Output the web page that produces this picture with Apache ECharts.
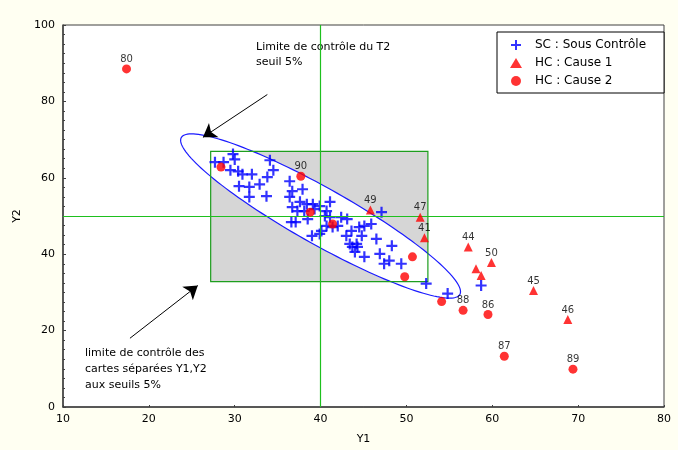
<!DOCTYPE html>
<html>
<head>
<meta charset="utf-8">
<script src="https://cdn.jsdelivr.net/npm/echarts@6/dist/echarts.min.js"></script>
<style>
html,body{margin:0;padding:0;background:#fffff2;}
#chart{width:678px;height:450px;}
</style>
</head>
<body>
<div id="chart"></div>
<script>
// ---- data ----
const X_TICKS = [10, 20, 30, 40, 50, 60, 70, 80];
const Y_TICKS = [0, 20, 40, 60, 80, 100];

// SC : Sous Contrôle  [Y1, Y2]
const scPoints = [
  [27.7,64.1],[28.7,64.1],[29.8,66.2],[30.0,64.8],[29.5,62.0],[30.4,61.7],[30.9,60.9],[32.0,60.9],
  [30.5,57.8],[31.7,57.6],[31.7,55.0],[32.9,58.3],[33.7,55.2],[34.1,64.6],[34.5,62.0],[33.8,60.2],
  [36.4,59.1],[36.4,55.0],[37.9,57.0],[36.7,56.5],[37.6,53.7],[36.7,52.3],[38.4,53.1],[39.1,53.1],
  [39.9,52.6],[41.1,53.7],[37.3,51.3],[38.1,51.3],[39.3,51.8],[40.7,51.3],[36.6,48.4],[37.1,48.4],
  [38.5,49.2],[40.5,50.0],[41.1,49.7],[42.4,49.7],[43.1,49.2],[40.7,47.4],[41.4,47.1],[39.9,45.3],
  [39.0,44.8],[40.1,46.1],[43.0,44.8],[43.6,46.1],[44.5,47.1],[44.8,44.8],[43.4,42.7],[44.2,42.7],
  [42.0,47.4],[47.1,51.0],[45.1,47.4],[45.9,47.9],[46.5,44.0],[48.3,42.2],[43.7,41.9],[44.3,41.9],
  [44.0,40.6],[45.1,39.3],[46.9,40.1],[48.0,38.3],[47.4,37.5],[49.4,37.5],[52.3,32.3],[54.8,29.7],
  [58.7,31.8]
];
// HC : Cause 1  [Y1, Y2, label]
const hc1Points = [
  [45.8,51.6,'49'],[51.6,49.7,'47'],[52.1,44.3,'41'],[57.2,41.9,'44'],[58.1,36.2,''],
  [58.7,34.4,''],[59.9,37.8,'50'],[64.8,30.5,'45'],[68.8,22.9,'46']
];
// HC : Cause 2  [Y1, Y2, label]
const hc2Points = [
  [17.4,88.5,'80'],[28.4,62.8,''],[37.7,60.4,'90'],[38.8,51.0,''],[41.4,47.9,''],
  [50.7,39.3,''],[49.8,34.1,''],[54.1,27.6,''],[56.6,25.3,'88'],[59.5,24.2,'86'],
  [61.4,13.3,'87'],[69.4,9.9,'89']
];
// control limits
const TARGET = [40, 50];                 // green reference lines (Y1, Y2)
const RECT_Y1 = [27.2, 52.5];            // separate chart limits for Y1
const RECT_Y2 = [32.8, 66.9];            // separate chart limits for Y2
const T2_CENTER = [40, 50];
const T2_SPREAD = [16.3, 21.5];
const T2_PHASE = 0.40;
// annotation arrows [from, to] in data units
const ARROW_T2 = [[33.8, 81.8], [26.3, 70.6]];
const ARROW_RECT = [[17.8, 18.0], [25.7, 31.8]];

const FONT = 'DejaVu Sans';
const PLUS = 'path://M4,0H6V4H10V6H6V10H4V6H0V4H4Z';
const GREEN = '#1ec01e';

function ellipsePoints(api) {
  const pts = [];
  const n = 160;
  for (let i = 0; i <= n; i++) {
    const t = 2 * Math.PI * i / n;
    const x = T2_CENTER[0] + T2_SPREAD[0] * Math.cos(t);
    const y = T2_CENTER[1] - T2_SPREAD[1] * Math.cos(t + T2_PHASE);
    pts.push(api.coord([x, y]));
  }
  return pts;
}

function renderLimits(params, api) {
  const tl = api.coord([RECT_Y1[0], RECT_Y2[1]]);
  const br = api.coord([RECT_Y1[1], RECT_Y2[0]]);
  const rect = {x: tl[0], y: tl[1], width: br[0] - tl[0], height: br[1] - tl[1]};
  return {
    type: 'group',
    children: [
      {type: 'rect', shape: rect, style: {fill: '#d6d6d6', stroke: null}},
      {type: 'polygon', shape: {points: ellipsePoints(api)},
       style: {fill: '#ffffff', stroke: '#1a1aff', lineWidth: 1.2}},
      {type: 'rect', shape: rect, style: {fill: null, stroke: '#1e9e1e', lineWidth: 1.2}}
    ]
  };
}

const labelStyle = {
  show: true, position: 'top', distance: 0, fontSize: 10, fontFamily: FONT, color: '#000',
  formatter: p => p.value[2] || ''
};

const chart = echarts.init(document.getElementById('chart'), null, {renderer: 'canvas'});
chart.setOption({
  backgroundColor: '#fffff2',
  animation: false,
  textStyle: {fontFamily: FONT},
  grid: {left: 63, right: 14, top: 25, bottom: 41, show: true, backgroundColor: '#ffffff',
         borderColor: '#404040', borderWidth: 1},
  xAxis: {
    type: 'value', min: X_TICKS[0], max: X_TICKS[X_TICKS.length - 1], interval: 10,
    name: 'Y1', nameLocation: 'middle', nameGap: 27,
    nameTextStyle: {fontSize: 11, color: '#000', fontFamily: FONT},
    axisLine: {onZero: false, lineStyle: {color: '#404040', width: 1.5}},
    axisTick: {inside: true, length: 2, lineStyle: {color: '#404040'}},
    axisLabel: {color: '#000', fontSize: 11, margin: 7, fontFamily: FONT},
    splitLine: {show: false}
  },
  yAxis: {
    type: 'value', min: Y_TICKS[0], max: Y_TICKS[Y_TICKS.length - 1], interval: 20,
    name: 'Y2', nameLocation: 'middle', nameGap: 33, nameRotate: 90,
    nameTextStyle: {fontSize: 11, color: '#000', fontFamily: FONT},
    axisLine: {onZero: false, lineStyle: {color: '#404040', width: 1.5}},
    axisTick: {inside: true, length: 3, lineStyle: {color: '#404040'}},
    minorTick: {show: true, splitNumber: 8, length: 2, lineStyle: {color: '#404040'}},
    axisLabel: {color: '#000', fontSize: 11, margin: 8, fontFamily: FONT},
    splitLine: {show: false}
  },
  legend: {
    orient: 'vertical', left: 497, top: 32, width: 167,
    backgroundColor: '#ffffff', borderColor: '#000', borderWidth: 1, borderRadius: 0,
    padding: [7, 18, 6, 13], itemGap: 6, itemWidth: 12, itemHeight: 10,
    textStyle: {fontSize: 12, color: '#000', fontFamily: FONT, padding: [0, 0, 0, 8]},
    data: [
      {name: 'SC : Sous Contrôle', icon: PLUS},
      {name: 'HC : Cause 1', icon: 'triangle'},
      {name: 'HC : Cause 2', icon: 'circle'}
    ]
  },
  graphic: [
    {type: 'text', left: 256, top: 40, style: {text: 'Limite de contrôle du T2\nseuil 5%',
      font: '11px "DejaVu Sans"', fill: '#000', lineHeight: 15}},
    {type: 'text', left: 85, top: 345, style: {text: 'limite de contrôle des\ncartes séparées Y1,Y2\naux seuils 5%',
      font: '11px "DejaVu Sans"', fill: '#000', lineHeight: 16}}
  ],
  series: [
    {
      type: 'custom', name: 'limits', coordinateSystem: 'cartesian2d', silent: true,
      data: [[T2_CENTER[0], T2_CENTER[1]]], renderItem: renderLimits, z: 1,
      markLine: {
        silent: true, symbol: 'none', label: {show: false},
        lineStyle: {color: GREEN, width: 1.2, type: 'solid', opacity: 1},
        data: [
          {xAxis: TARGET[0], lineStyle: {color: GREEN, width: 1.2, type: 'solid'}},
          {yAxis: TARGET[1], lineStyle: {color: GREEN, width: 1.2, type: 'solid'}}
        ]
      }
    },
    {
      type: 'lines', coordinateSystem: 'cartesian2d', silent: true, z: 3,
      symbol: ['none', 'arrow'], symbolSize: [0, 13],
      lineStyle: {color: '#000', width: 1, type: 'solid', opacity: 1},
      itemStyle: {color: '#000'},
      data: [{coords: ARROW_T2}, {coords: ARROW_RECT}]
    },
    {
      type: 'scatter', name: 'SC : Sous Contrôle', data: scPoints, symbol: PLUS, symbolSize: 11,
      itemStyle: {color: '#0000ff'}, z: 4
    },
    {
      type: 'scatter', name: 'HC : Cause 1', data: hc1Points, symbol: 'triangle', symbolSize: 9,
      itemStyle: {color: '#ff0000'}, label: labelStyle, z: 5
    },
    {
      type: 'scatter', name: 'HC : Cause 2', data: hc2Points, symbol: 'circle', symbolSize: 9,
      itemStyle: {color: '#ff0000'}, label: labelStyle, z: 5
    }
  ]
});
</script>
</body>
</html>
